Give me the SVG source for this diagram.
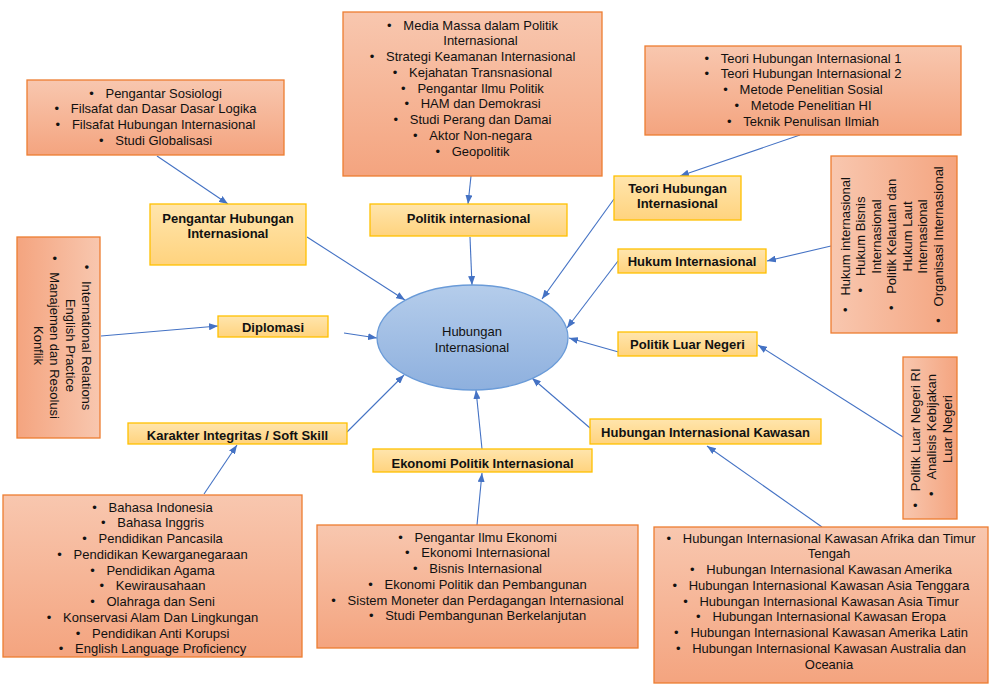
<svg xmlns="http://www.w3.org/2000/svg" width="996" height="699" viewBox="0 0 996 699">
<style>
.t{font-family:"Liberation Sans",Arial,sans-serif;font-size:13px;fill:#111;text-anchor:middle}
.b{font-family:"Liberation Sans",Arial,sans-serif;font-size:13px;font-weight:bold;fill:#111;text-anchor:middle}
.ob{stroke:#ED7D31;stroke-width:1.3}
.yb{fill:url(#gy);stroke:#FFC000;stroke-width:1.3}
.c line{stroke:#4472C4;stroke-width:1.1;marker-end:url(#ah)}
</style>
<defs>
<linearGradient id="go" x1="0" y1="0" x2="0" y2="1"><stop offset="0" stop-color="#F8C7AF"/><stop offset="1" stop-color="#F4A47F"/></linearGradient>
<linearGradient id="gl" x1="1" y1="0" x2="0" y2="0"><stop offset="0" stop-color="#F8C7AF"/><stop offset="1" stop-color="#F4A47F"/></linearGradient>
<linearGradient id="gr" x1="0" y1="0" x2="1" y2="0"><stop offset="0" stop-color="#F8C7AF"/><stop offset="1" stop-color="#F4A47F"/></linearGradient>
<linearGradient id="gy" x1="0" y1="0" x2="0" y2="1"><stop offset="0" stop-color="#FFE5AD"/><stop offset="1" stop-color="#FFD37E"/></linearGradient>
<linearGradient id="ge" x1="0" y1="0" x2="0" y2="1"><stop offset="0" stop-color="#B5CDEB"/><stop offset="1" stop-color="#8EB0DE"/></linearGradient>
<marker id="ah" markerUnits="userSpaceOnUse" markerWidth="9" markerHeight="7" refX="9" refY="3.5" orient="auto"><path d="M0,0 L9,3.5 L0,7 z" fill="#4472C4"/></marker>
</defs>
<rect width="996" height="699" fill="#fff"/>

<g class="c" id="connectors">
<line x1="157" y1="156" x2="228" y2="204"/>
<line x1="307" y1="237" x2="405" y2="300"/>
<line x1="101" y1="336" x2="218" y2="326"/>
<line x1="344" y1="333" x2="377" y2="338"/>
<line x1="347" y1="432" x2="404" y2="375"/>
<line x1="204" y1="494" x2="237" y2="445"/>
<line x1="482" y1="449" x2="476" y2="390"/>
<line x1="477" y1="525" x2="482" y2="473"/>
<line x1="590" y1="428" x2="532" y2="378"/>
<line x1="822" y1="527" x2="707" y2="446"/>
<line x1="622" y1="353" x2="569" y2="338"/>
<line x1="903" y1="437" x2="758" y2="345"/>
<line x1="618" y1="261" x2="567" y2="328"/>
<line x1="614" y1="199" x2="542" y2="299"/>
<line x1="800" y1="135" x2="680" y2="176"/>
<line x1="471" y1="176" x2="468" y2="204"/>
<line x1="470" y1="237" x2="472" y2="285"/>
<line x1="831" y1="246" x2="767" y2="261"/>
</g>

<g id="center">
<ellipse cx="472.5" cy="337.5" rx="95.5" ry="52.5" fill="url(#ge)" stroke="#6A9BD8" stroke-width="1.3"/>
<text class="t" x="472" y="335.5">Hubungan</text>
<text class="t" x="472" y="351.5">Internasional</text>
</g>

<g id="list-dasar">
<rect class="ob" x="27" y="80" width="257" height="75" fill="url(#go)"/>
<text class="t" x="155.5" y="97.5">•<tspan dx="11.75">Pengantar Sosiologi</tspan></text>
<text class="t" x="155.5" y="113.3">•<tspan dx="11.75">Filsafat dan Dasar Dasar Logika</tspan></text>
<text class="t" x="155.5" y="129">•<tspan dx="11.75">Filsafat Hubungan Internasional</tspan></text>
<text class="t" x="155.5" y="144.8">•<tspan dx="11.75">Studi Globalisasi</tspan></text>
</g>

<g id="list-politik">
<rect class="ob" x="343" y="12" width="259" height="164" fill="url(#go)"/>
<text class="t" x="472.5" y="29.5">•<tspan dx="11.75">Media Massa dalam Politik</tspan></text>
<text class="t" x="480.5" y="45.3">Internasional</text>
<text class="t" x="472.5" y="61">•<tspan dx="11.75">Strategi Keamanan Internasional</tspan></text>
<text class="t" x="472.5" y="76.7">•<tspan dx="11.75">Kejahatan Transnasional</tspan></text>
<text class="t" x="472.5" y="92.5">•<tspan dx="11.75">Pengantar Ilmu Politik</tspan></text>
<text class="t" x="472.5" y="108.2">•<tspan dx="11.75">HAM dan Demokrasi</tspan></text>
<text class="t" x="472.5" y="123.9">•<tspan dx="11.75">Studi Perang dan Damai</tspan></text>
<text class="t" x="472.5" y="139.7">•<tspan dx="11.75">Aktor Non-negara</tspan></text>
<text class="t" x="472.5" y="155.5">•<tspan dx="11.75">Geopolitik</tspan></text>
</g>

<g id="list-teori">
<rect class="ob" x="645" y="46" width="316" height="89" fill="url(#go)"/>
<text class="t" x="803" y="62.5">•<tspan dx="11.75">Teori Hubungan Internasional 1</tspan></text>
<text class="t" x="803" y="78.3">•<tspan dx="11.75">Teori Hubungan Internasional 2</tspan></text>
<text class="t" x="803" y="94">•<tspan dx="11.75">Metode Penelitian Sosial</tspan></text>
<text class="t" x="803" y="109.8">•<tspan dx="11.75">Metode Penelitian HI</tspan></text>
<text class="t" x="803" y="125.5">•<tspan dx="11.75">Teknik Penulisan Ilmiah</tspan></text>
</g>

<g id="list-diplomasi">
<rect class="ob" x="17" y="237" width="83" height="201" fill="url(#gl)"/>
<g transform="translate(58.5,337.5) rotate(90)">
<text class="t" x="0" y="-23.5">•<tspan dx="11.75">International Relations</tspan></text>
<text class="t" x="8" y="-7.5">English Practice</text>
<text class="t" x="0" y="8.5">•<tspan dx="11.75">Manajemen dan Resolusi</tspan></text>
<text class="t" x="8" y="24.5">Konflik</text>
</g>
</g>

<g id="list-hukum">
<rect class="ob" x="831" y="156" width="126" height="177" fill="url(#gr)"/>
<g transform="translate(894,244.5) rotate(-90)">
<text class="t" x="0" y="-44.5">•<tspan dx="11.75">Hukum internasional</tspan></text>
<text class="t" x="0" y="-29">•<tspan dx="11.75">Hukum Bisnis</tspan></text>
<text class="t" x="8" y="-13.5">Internasional</text>
<text class="t" x="0" y="2">•<tspan dx="11.75">Politik Kelautan dan</tspan></text>
<text class="t" x="8" y="17.5">Hukum Laut</text>
<text class="t" x="8" y="33">Internasional</text>
<text class="t" x="0" y="48.5">•<tspan dx="11.75">Organisasi Internasional</tspan></text>
</g>
</g>

<g id="list-pln">
<rect class="ob" x="903" y="357" width="54" height="162" fill="url(#gr)"/>
<g transform="translate(930,438) rotate(-90)">
<text class="t" x="0" y="-10.5">•<tspan dx="11.75">Politik Luar Negeri RI</tspan></text>
<text class="t" x="3" y="5.5">•<tspan dx="11.75">Analisis Kebijakan</tspan></text>
<text class="t" x="9" y="21.5">Luar Negeri</text>
</g>
</g>

<g id="list-karakter">
<rect class="ob" x="3" y="495" width="299" height="162" fill="url(#go)"/>
<text class="t" x="152.5" y="511.5">•<tspan dx="11.75">Bahasa Indonesia</tspan></text>
<text class="t" x="152.5" y="527.3">•<tspan dx="11.75">Bahasa Inggris</tspan></text>
<text class="t" x="152.5" y="543">•<tspan dx="11.75">Pendidikan Pancasila</tspan></text>
<text class="t" x="152.5" y="558.8">•<tspan dx="11.75">Pendidikan Kewarganegaraan</tspan></text>
<text class="t" x="152.5" y="574.5">•<tspan dx="11.75">Pendidikan Agama</tspan></text>
<text class="t" x="152.5" y="590.3">•<tspan dx="11.75">Kewirausahaan</tspan></text>
<text class="t" x="152.5" y="606">•<tspan dx="11.75">Olahraga dan Seni</tspan></text>
<text class="t" x="152.5" y="621.8">•<tspan dx="11.75">Konservasi Alam Dan Lingkungan</tspan></text>
<text class="t" x="152.5" y="637.5">•<tspan dx="11.75">Pendidikan Anti Korupsi</tspan></text>
<text class="t" x="152.5" y="653.3">•<tspan dx="11.75">English Language Proficiency</tspan></text>
</g>

<g id="list-ekonomi">
<rect class="ob" x="317" y="525" width="321" height="123" fill="url(#go)"/>
<text class="t" x="477.5" y="541.5">•<tspan dx="11.75">Pengantar Ilmu Ekonomi</tspan></text>
<text class="t" x="477.5" y="557.3">•<tspan dx="11.75">Ekonomi Internasional</tspan></text>
<text class="t" x="477.5" y="573">•<tspan dx="11.75">Bisnis Internasional</tspan></text>
<text class="t" x="477.5" y="588.8">•<tspan dx="11.75">Ekonomi Politik dan Pembangunan</tspan></text>
<text class="t" x="477.5" y="604.5">•<tspan dx="11.75">Sistem Moneter dan Perdagangan Internasional</tspan></text>
<text class="t" x="477.5" y="620.3">•<tspan dx="11.75">Studi Pembangunan Berkelanjutan</tspan></text>
</g>

<g id="list-kawasan">
<rect class="ob" x="654" y="527" width="334" height="156" fill="url(#go)"/>
<text class="t" x="821" y="542.5">•<tspan dx="11.75">Hubungan Internasional Kawasan Afrika dan Timur</tspan></text>
<text class="t" x="829" y="558.3">Tengah</text>
<text class="t" x="821" y="574">•<tspan dx="11.75">Hubungan Internasional Kawasan Amerika</tspan></text>
<text class="t" x="821" y="589.8">•<tspan dx="11.75">Hubungan Internasional Kawasan Asia Tenggara</tspan></text>
<text class="t" x="821" y="605.5">•<tspan dx="11.75">Hubungan Internasional Kawasan Asia Timur</tspan></text>
<text class="t" x="821" y="621.3">•<tspan dx="11.75">Hubungan Internasional Kawasan Eropa</tspan></text>
<text class="t" x="821" y="637">•<tspan dx="11.75">Hubungan Internasional Kawasan Amerika Latin</tspan></text>
<text class="t" x="821" y="652.8">•<tspan dx="11.75">Hubungan Internasional Kawasan Australia dan</tspan></text>
<text class="t" x="829" y="668.5">Oceania</text>
</g>

<g id="pengantar-hi">
<rect class="yb" x="150" y="204" width="156" height="61"/>
<text class="b" x="228" y="222.5">Pengantar Hubungan</text>
<text class="b" x="228" y="237.5">Internasional</text>
</g>
<g id="politik-internasional">
<rect class="yb" x="370" y="204" width="197" height="32"/>
<text class="b" x="468.5" y="222.5">Politik internasional</text>
</g>
<g id="teori-hi">
<rect class="yb" x="614" y="176" width="127" height="44"/>
<text class="b" x="677.5" y="192.5">Teori Hubungan</text>
<text class="b" x="677.5" y="207.5">Internasional</text>
</g>
<g id="hukum-internasional">
<rect class="yb" x="618" y="249" width="148" height="24"/>
<text class="b" x="692" y="265.5">Hukum Internasional</text>
</g>
<g id="politik-luar-negeri">
<rect class="yb" x="618" y="332" width="139" height="24"/>
<text class="b" x="687.5" y="348.5">Politik Luar Negeri</text>
</g>
<g id="hi-kawasan">
<rect class="yb" x="590" y="419" width="231" height="25"/>
<text class="b" x="705.5" y="436.5">Hubungan Internasional Kawasan</text>
</g>
<g id="diplomasi">
<rect class="yb" x="218" y="316" width="110" height="21"/>
<text class="b" x="273" y="331.5">Diplomasi</text>
</g>
<g id="karakter">
<rect class="yb" x="128" y="423" width="219" height="21"/>
<text class="b" x="237.5" y="439.5">Karakter Integritas / Soft Skill</text>
</g>
<g id="ekonomi-politik">
<rect class="yb" x="373" y="449" width="219" height="23"/>
<text class="b" x="482.5" y="467.5">Ekonomi Politik Internasional</text>
</g>
</svg>
